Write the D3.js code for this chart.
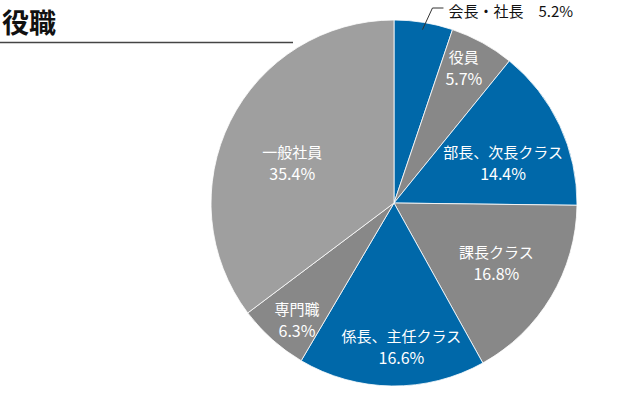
<!DOCTYPE html>
<html lang="ja">
<head>
	<meta charset="UTF-8">
	<title>役職</title>
	<script src="https://d3js.org/d3.v7.min.js"></script>
	<style>
		* { margin: 0; padding: 0; }
		body { background: #fff; }
		text { font-family: "Noto Sans CJK JP", "Noto Sans", sans-serif; }
	</style>
</head>
<body>
	<svg width="632" height="396"></svg>
	<script>
		var categories = ["会長・社長", "役員", "部長、次長クラス", "課長クラス", "係長、主任クラス", "専門職", "一般社員"];
		var values = [5.2, 5.7, 14.4, 16.8, 16.6, 6.3, 35.4];
		var colors = ["#0068a9", "#888888", "#0068a9", "#888888", "#0068a9", "#888888", "#9f9f9f"];
		// where each inside label sits: share of the radius, and turn from the slice middle (degrees)
		var labelRadius = [0, 0.836, 0.637, 0.645, 0.78, 0.825, 0.6];
		var labelTurn = [0, -1.7, 4.4, -1, -3.7, -1.8, -4.5];

		var svg = d3.select("svg");
		var cx = 394, cy = 203, radius = 183;

		// title
		svg.append("text")
			.attr("x", 2)
			.attr("y", 33)
			.attr("font-size", 27)
			.attr("font-weight", "bold")
			.attr("fill", "#111")
			.text("役職");

		svg.append("line")
			.attr("x1", 0).attr("x2", 293)
			.attr("y1", 42.5).attr("y2", 42.5)
			.attr("stroke", "#444")
			.attr("stroke-width", 1.5);

		var data = categories.map(function (c, i) {
			return { name: c, value: values[i], color: colors[i], lr: labelRadius[i], lt: labelTurn[i] };
		});

		var pie = d3.pie().sort(null).value(function (d) { return d.value; });
		var arc = d3.arc().innerRadius(0).outerRadius(radius);
		var arcs = pie(data);

		var g = svg.append("g").attr("transform", "translate(" + cx + "," + cy + ")");

		g.selectAll("path")
			.data(arcs)
			.enter()
			.append("path")
			.attr("d", arc)
			.attr("fill", function (d) { return d.data.color; })
			.attr("stroke", "#fff")
			.attr("stroke-width", 0.8);

		// inside labels
		var inside = arcs.filter(function (d, i) { return i > 0; });
		var lab = g.selectAll("g.lab")
			.data(inside)
			.enter()
			.append("g")
			.attr("class", "lab")
			.attr("transform", function (d) {
				var r = radius * d.data.lr;
				var a = (d.startAngle + d.endAngle) / 2 + d.data.lt * Math.PI / 180;
				return "translate(" + (Math.sin(a) * r) + "," + (-Math.cos(a) * r) + ")";
			});

		lab.append("text")
			.attr("text-anchor", "middle")
			.attr("y", -4)
			.attr("font-size", 15)
			.attr("fill", "#fff")
			.text(function (d) { return d.data.name; });

		lab.append("text")
			.attr("text-anchor", "middle")
			.attr("y", 18)
			.attr("font-size", 16)
			.attr("fill", "#fff")
			.text(function (d) { return d.data.value.toFixed(1) + "%"; });

		// outside label for the first slice with a leader line
		var first = arcs[0];
		var a = (first.startAngle + first.endAngle) / 2;
		var p0 = [Math.sin(a) * radius * 0.96, -Math.cos(a) * radius * 0.96];
		var p1 = [p0[0] + 10, -radius - 12];
		var p2 = [p1[0] + 11, p1[1]];
		g.append("polyline")
			.attr("points", [p0, p1, p2].map(function (p) { return p.join(","); }).join(" "))
			.attr("fill", "none")
			.attr("stroke", "#333")
			.attr("stroke-width", 1);

		g.append("text")
			.attr("x", p2[0] + 5)
			.attr("y", p2[1] + 9)
			.attr("font-size", 15)
			.attr("fill", "#111")
			.text(first.data.name + "\u3000" + first.data.value.toFixed(1) + "%");
	</script>
</body>
</html>
